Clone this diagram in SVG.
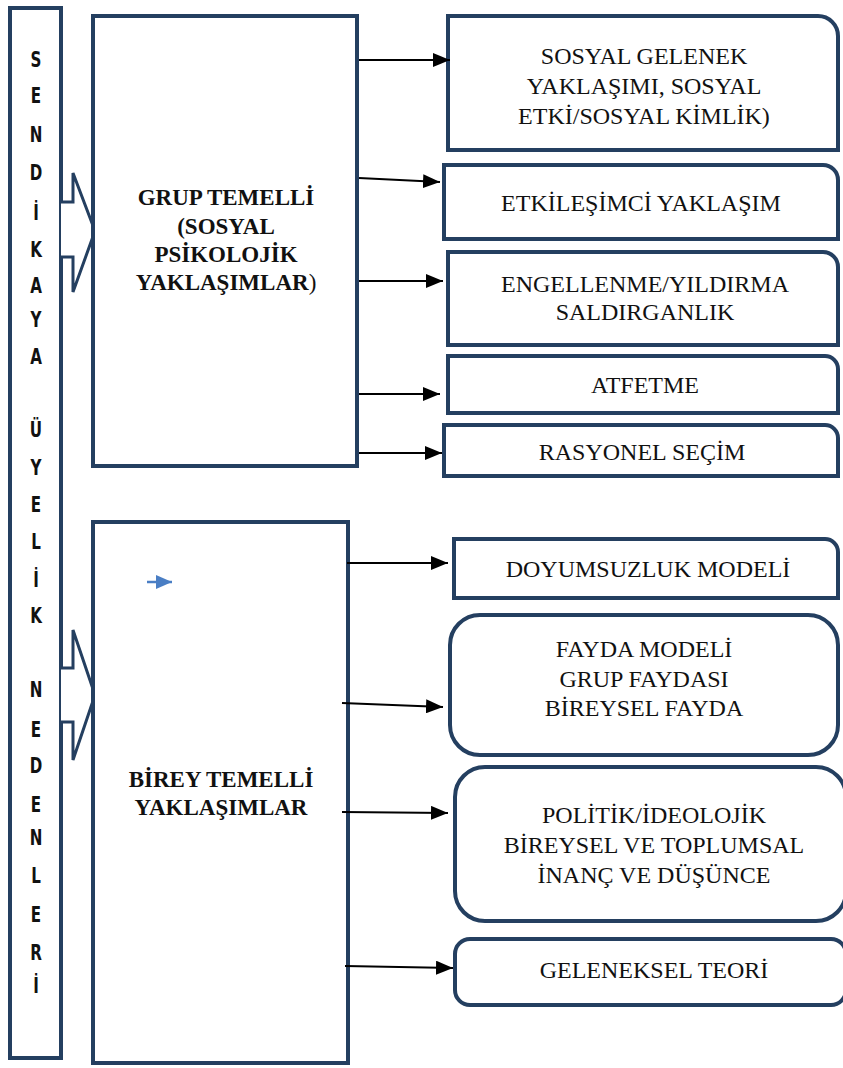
<svg xmlns="http://www.w3.org/2000/svg" width="843" height="1068" viewBox="0 0 843 1068">
<defs>
<marker id="ah" markerUnits="userSpaceOnUse" markerWidth="18" markerHeight="14" refX="17" refY="7" orient="auto">
<path d="M0,0 L17,7 L0,14 Z" fill="#000"/>
</marker>
<marker id="bh" markerUnits="userSpaceOnUse" markerWidth="18" markerHeight="14" refX="16" refY="7" orient="auto">
<path d="M0,0 L16,7 L0,14 Z" fill="#4a7ec4"/>
</marker>
<style>
.box{fill:#fff;stroke:#243f60;stroke-width:4}
.blk{fill:#fff;stroke:#243f60;stroke-width:3;stroke-linejoin:miter}
.t{font-family:"Liberation Serif","Times New Roman",serif;font-size:24px;fill:#111;text-anchor:middle}
.b{font-family:"Liberation Serif","Times New Roman",serif;font-size:23px;font-weight:bold;fill:#111;text-anchor:middle}
.v{font-family:"DejaVu Sans","Liberation Sans",sans-serif;font-size:21px;font-weight:bold;fill:#111;text-anchor:middle}
.c{stroke:#000;stroke-width:2;fill:none;marker-end:url(#ah)}
</style>
</defs>
<rect width="843" height="1068" fill="#fff"/>

<g id="side-bar">
<rect class="box" x="10" y="8" width="51" height="1050"/>
<g transform="translate(36,0) scale(0.72,1)">
<text class="v" x="0" y="67">S</text>
<text class="v" x="0" y="103">E</text>
<text class="v" x="0" y="142">N</text>
<text class="v" x="0" y="180">D</text>
<text class="v" x="0" y="220">İ</text>
<text class="v" x="0" y="257">K</text>
<text class="v" x="0" y="293">A</text>
<text class="v" x="0" y="327">Y</text>
<text class="v" x="0" y="364">A</text>
<text class="v" x="0" y="437">Ü</text>
<text class="v" x="0" y="475">Y</text>
<text class="v" x="0" y="512">E</text>
<text class="v" x="0" y="549">L</text>
<text class="v" x="0" y="587">İ</text>
<text class="v" x="0" y="623">K</text>
<text class="v" x="0" y="697">N</text>
<text class="v" x="0" y="737">E</text>
<text class="v" x="0" y="773">D</text>
<text class="v" x="0" y="812">E</text>
<text class="v" x="0" y="845">N</text>
<text class="v" x="0" y="883">L</text>
<text class="v" x="0" y="922">E</text>
<text class="v" x="0" y="960">R</text>
<text class="v" x="0" y="993">İ</text>
</g>
</g>

<g id="block-arrows">
<path class="blk" d="M61,202 H73 V173 L95,231 L73,292 V257 H61"/>
<path class="blk" d="M61,668 H73 V630 L95,695 L73,760 V722 H61"/>
</g>

<g id="grup">
<rect class="box" x="93" y="16" width="264" height="450"/>
<text class="b" x="226" y="205">GRUP TEMELLİ</text>
<text class="b" x="226" y="234">(SOSYAL</text>
<text class="b" x="226" y="262">PSİKOLOJİK</text>
<text class="b" x="226" y="290">YAKLAŞIMLAR<tspan font-weight="normal">)</tspan></text>
</g>

<g id="birey">
<rect class="box" x="93" y="522" width="255" height="541"/>
<text class="b" x="221" y="787">BİREY TEMELLİ</text>
<text class="b" x="221" y="815">YAKLAŞIMLAR</text>
</g>

<g id="n-sosyal">
<path class="box" d="M448,16 H818 A20,20 0 0 1 838,36 V150 H448 Z"/>
<text class="t" x="644" y="64">SOSYAL GELENEK</text>
<text class="t" x="644" y="94">YAKLAŞIMI, SOSYAL</text>
<text class="t" x="644" y="124">ETKİ/SOSYAL KİMLİK)</text>
</g>
<g id="n-etkilesim">
<path class="box" d="M444,165 H823 A15,15 0 0 1 838,180 V239 H444 Z"/>
<text class="t" x="641" y="211">ETKİLEŞİMCİ YAKLAŞIM</text>
</g>
<g id="n-engellenme">
<path class="box" d="M448,252 H823 A15,15 0 0 1 838,267 V345 H448 Z"/>
<text class="t" x="645" y="292">ENGELLENME/YILDIRMA</text>
<text class="t" x="645" y="320">SALDIRGANLIK</text>
</g>
<g id="n-atfetme">
<path class="box" d="M448,356 H825 A13,13 0 0 1 838,369 V413 H448 Z"/>
<text class="t" x="645" y="393">ATFETME</text>
</g>
<g id="n-rasyonel">
<path class="box" d="M444,425 H825 A13,13 0 0 1 838,438 V476 H444 Z"/>
<text class="t" x="642" y="460">RASYONEL SEÇİM</text>
</g>
<g id="n-doyumsuzluk">
<path class="box" d="M454,539 H825 A13,13 0 0 1 838,552 V598 H454 Z"/>
<text class="t" x="648" y="577">DOYUMSUZLUK MODELİ</text>
</g>
<g id="n-fayda">
<rect class="box" x="450" y="615" width="388" height="140" rx="30" ry="30"/>
<text class="t" x="644" y="657">FAYDA MODELİ</text>
<text class="t" x="644" y="687">GRUP FAYDASI</text>
<text class="t" x="644" y="716">BİREYSEL FAYDA</text>
</g>
<g id="n-politik">
<rect class="box" x="455" y="767" width="391" height="154" rx="30" ry="30"/>
<text class="t" x="654" y="823">POLİTİK/İDEOLOJİK</text>
<text class="t" x="654" y="853">BİREYSEL VE TOPLUMSAL</text>
<text class="t" x="654" y="883">İNANÇ VE DÜŞÜNCE</text>
</g>
<g id="n-geleneksel">
<rect class="box" x="455" y="939" width="391" height="66" rx="15" ry="15"/>
<text class="t" x="654" y="978">GELENEKSEL TEORİ</text>
</g>

<g id="connectors">
<line class="c" x1="359" y1="60" x2="450" y2="60"/>
<line class="c" x1="359" y1="178" x2="440" y2="182"/>
<line class="c" x1="359" y1="281" x2="443" y2="281"/>
<line class="c" x1="359" y1="394" x2="440" y2="394"/>
<line class="c" x1="359" y1="453" x2="442" y2="453"/>
<line class="c" x1="347" y1="563" x2="448" y2="563"/>
<line class="c" x1="342" y1="703" x2="443" y2="707"/>
<line class="c" x1="342" y1="812" x2="448" y2="813"/>
<line class="c" x1="345" y1="966" x2="453" y2="968"/>
<line x1="147" y1="582" x2="172" y2="582" stroke="#4a7ec4" stroke-width="2.5" marker-end="url(#bh)"/>
</g>
</svg>
